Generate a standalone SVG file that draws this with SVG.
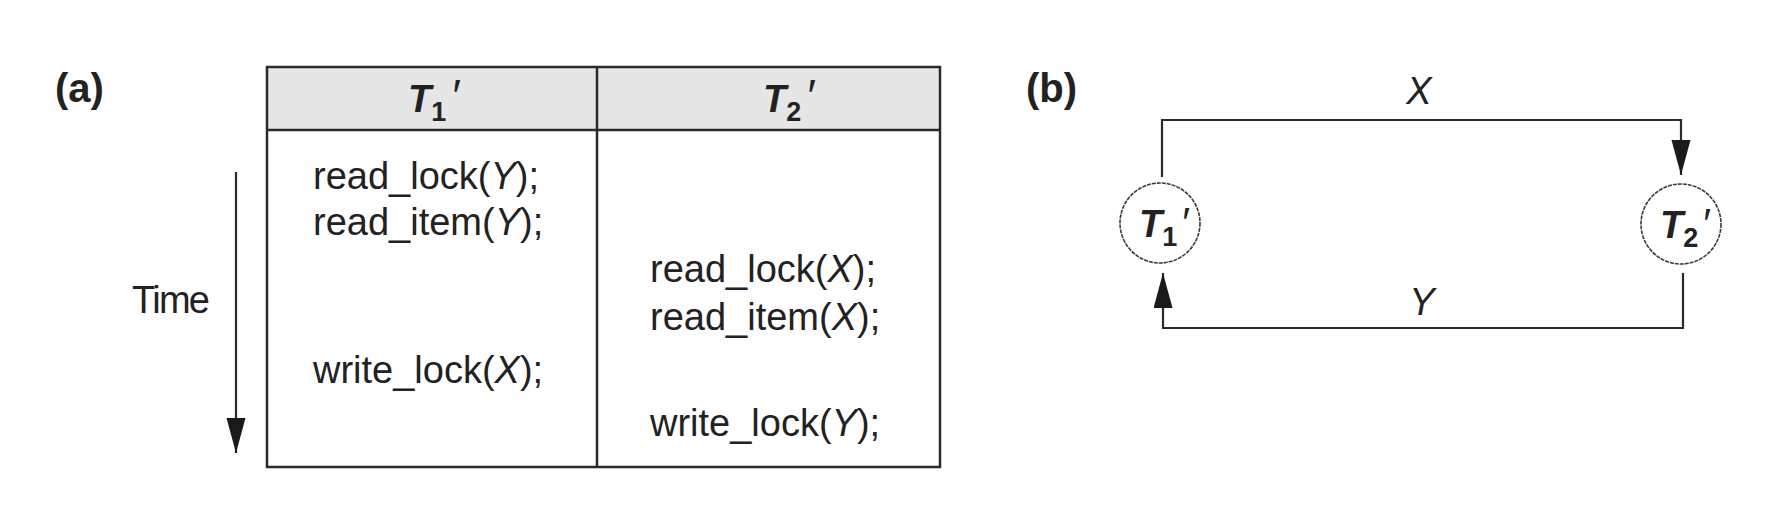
<svg xmlns="http://www.w3.org/2000/svg" width="1767" height="511" viewBox="0 0 1767 511">
<style>
text{font-family:"Liberation Sans",Arial,sans-serif;fill:#222}
.body{font-size:38px}
.lbl{font-size:40px;font-weight:bold}
.hdr{font-size:38px;font-weight:bold}
.it{font-style:italic}
.sub{font-size:27px;font-style:normal}
.pr{font-style:italic;font-weight:normal}
.edge{fill:none;stroke:#2a2a2a;stroke-width:2.2}
.cell{fill:none;stroke:#2a2a2a;stroke-width:2.5}
.node{fill:#fff;stroke:#3a3a3a;stroke-width:1.6;stroke-dasharray:4 1}
</style>
<defs>
<marker id="arr" markerUnits="userSpaceOnUse" markerWidth="36" markerHeight="20" refX="35" refY="9.5" orient="auto">
<path d="M0,0 L35,9.5 L0,19 Z" fill="#1a1a1a"/>
</marker>
</defs>

<g id="label-a"><text class="lbl" x="55" y="102">(a)</text></g>
<g id="label-b"><text class="lbl" x="1026" y="102">(b)</text></g>

<g id="table">
<rect x="267" y="67" width="673" height="63" fill="#e6e6e6"/>
<rect class="cell" x="267" y="67" width="673" height="400"/>
<line class="cell" x1="267" y1="130" x2="940" y2="130"/>
<line class="cell" x1="597" y1="67" x2="597" y2="467"/>
<text class="hdr" x="408" y="112"><tspan class="it">T</tspan><tspan class="sub" dy="9">1</tspan><tspan class="pr" dx="4" dy="-9" font-size="46">′</tspan></text>
<text class="hdr" x="763" y="112"><tspan class="it">T</tspan><tspan class="sub" dy="9">2</tspan><tspan class="pr" dx="4" dy="-9" font-size="46">′</tspan></text>
</g>

<g id="t1-ops">
<text class="body" x="313" y="189">read_lock(<tspan class="it">Y</tspan>);</text>
<text class="body" x="313" y="235">read_item(<tspan class="it">Y</tspan>);</text>
<text class="body" x="313" y="383">write_lock(<tspan class="it">X</tspan>);</text>
</g>
<g id="t2-ops">
<text class="body" x="650" y="282">read_lock(<tspan class="it">X</tspan>);</text>
<text class="body" x="650" y="330">read_item(<tspan class="it">X</tspan>);</text>
<text class="body" x="650" y="436">write_lock(<tspan class="it">Y</tspan>);</text>
</g>

<g id="time">
<text class="body" x="132" y="313" textLength="78">Time</text>
<line class="edge" x1="236" y1="172" x2="236" y2="453" marker-end="url(#arr)"/>
</g>

<g id="connectors">
<path class="edge" d="M1162,177 V120 H1681 V175" marker-end="url(#arr)"/>
<path class="edge" d="M1683,273 V328 H1163 V273" marker-end="url(#arr)"/>
<text class="body it" x="1419" y="104" text-anchor="middle">X</text>
<text class="body it" x="1422" y="315" text-anchor="middle">Y</text>
</g>

<g id="node-t1">
<circle class="node" cx="1160" cy="223" r="40"/>
<text class="hdr" x="1139" y="237" font-size="36"><tspan class="it">T</tspan><tspan class="sub" font-size="25" dy="9">1</tspan><tspan class="pr" dx="3" dy="-9" font-size="42">′</tspan></text>
</g>
<g id="node-t2">
<circle class="node" cx="1681" cy="224" r="40"/>
<text class="hdr" x="1660" y="238" font-size="36"><tspan class="it">T</tspan><tspan class="sub" font-size="25" dy="9">2</tspan><tspan class="pr" dx="3" dy="-9" font-size="42">′</tspan></text>
</g>
</svg>
